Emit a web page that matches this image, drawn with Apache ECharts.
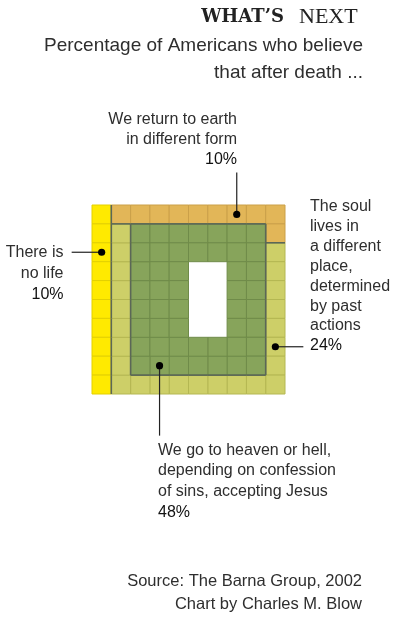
<!DOCTYPE html>
<html><head><meta charset="utf-8">
<script src="https://cdn.jsdelivr.net/npm/echarts@6/dist/echarts.min.js"></script>
<style>html,body{margin:0;padding:0;background:#fff;}#c{width:400px;height:620px;}</style>
</head><body><div id="c"></div>
<script>
// ---- data ----
const categories = [
  'There is no life',
  'We return to earth in different form',
  'The soul lives in a different place, determined by past actions',
  'We go to heaven or hell, depending on confession of sins, accepting Jesus'
];
const values = [10, 10, 24, 48];
const labelLines = [
  ['There is', 'no life'],
  ['We return to earth', 'in different form'],
  ['The soul', 'lives in', 'a different', 'place,', 'determined', 'by past', 'actions'],
  ['We go to heaven or hell,', 'depending on confession', 'of sins, accepting Jesus']
];
const titleBold = 'WHAT’S';
const titleLight = 'NEXT';
const subtitleLines = ['Percentage of Americans who believe', 'that after death ...'];
const sourceLines = ['Source: The Barna Group, 2002', 'Chart by Charles M. Blow'];

// ---- styles / layout ----
const fills = ['#FFEA00', '#E2B658', '#CDCF68', '#87A45B'];
const strokes = ['#E3D000', '#CBA049', '#B4B752', '#6F8B49'];
const outlineColor = '#5b6757';
const textColor = '#2e2e2e';
const pctColor = '#111';
// fill path through the 10x10 waffle: [startCol, startRow, dCol, dRow, count]
const walkSegments = [
  [0,0,0,1,10],[1,0,1,0,9],[9,1,0,1,9],[8,9,-1,0,8],[1,8,0,-1,8],
  [2,1,1,0,7],[8,2,0,1,7],[7,8,-1,0,6],[2,7,0,-1,6],
  [3,2,1,0,5],[7,3,0,1,5],[6,7,-1,0,4],[3,6,0,-1,4],
  [4,3,0,1,4],[5,3,0,1,4],[6,3,0,1,4]
];
// annotation anchor cell per category and leader offset in px
const anchorCells = [[0,2],[7,0],[9,7],[3,8]];
const leaderOffsets = [[-30,0],[0,-42],[28,0],[0,70]];

// ---- build cells from values ----
const order = [];
walkSegments.forEach(([c, r, dc, dr, n]) => {
  for (let k = 0; k < n; k++) order.push([c + dc * k, r + dr * k]);
});
const cells = [];
const cellMap = {};
let idx = 0;
values.forEach((v, g) => {
  for (let k = 0; k < v && idx < order.length; k++, idx++) {
    const [c, r] = order[idx];
    cells.push([c, r, g]);
    cellMap[c + ',' + r] = g;
  }
});
const edges = [];
cells.forEach(([c, r, g]) => {
  const right = cellMap[(c + 1) + ',' + r];
  if (right !== undefined && right !== g) edges.push([c + 1, r, c + 1, r + 1]);
  const below = cellMap[c + ',' + (r + 1)];
  if (below !== undefined && below !== g) edges.push([c, r + 1, c + 1, r + 1]);
});
const anchorData = anchorCells.map((a, g) => [a[0], a[1], g]);

// ---- texts ----
const FONT = '"Liberation Sans", Arial, sans-serif';
function txt(x, y, text, align, font, fill) {
  return { type: 'text', x: x, y: y, silent: true,
    style: { text: text, font: font, fill: fill, align: align, verticalAlign: 'middle',
             textAlign: align, textVerticalAlign: 'middle' } };
}
const graphics = [];
graphics.push(txt(284, 17.5, titleBold, 'right', 'bold 18px "DejaVu Serif", serif', '#222'));
graphics.push(txt(299, 17.5, titleLight, 'left', '22px "Liberation Serif", serif', '#222'));
subtitleLines.forEach((t, i) => graphics.push(txt(363, 46 + i * 27, t, 'right', '19px ' + FONT, textColor)));
// annotation text blocks: [x, firstMiddleY, lineStep, align]
const labelBlocks = [
  [63.5, 252.6, 20.8, 'right'],
  [237, 119.2, 20, 'right'],
  [310, 206.6, 19.9, 'left'],
  [158, 450.2, 20.8, 'left']
];
labelLines.forEach((lines, g) => {
  const [x, y0, step, al] = labelBlocks[g];
  lines.forEach((t, i) => graphics.push(txt(x, y0 + i * step, t, al, '16px ' + FONT, textColor)));
  graphics.push(txt(x, y0 + lines.length * step, values[g] + '%', al, '16px ' + FONT, pctColor));
});
sourceLines.forEach((t, i) => graphics.push(txt(362, 581 + i * 23.3, t, 'right', '16.5px ' + FONT, textColor)));

const chart = echarts.init(document.getElementById('c'), null, { renderer: 'canvas' });
chart.setOption({
  animation: false,
  backgroundColor: '#fff',
  grid: { left: 92, top: 205, width: 193, height: 189 },
  xAxis: { type: 'value', min: 0, max: 10, show: false },
  yAxis: { type: 'value', min: 0, max: 10, inverse: true, show: false },
  series: [
    {
      type: 'custom', name: 'cells', z: 1, data: cells,
      encode: { x: 0, y: 1 },
      renderItem: (p, api) => {
        const c = api.value(0), r = api.value(1), g = api.value(2);
        const a = api.coord([c, r]), b = api.coord([c + 1, r + 1]);
        return { type: 'rect',
          shape: { x: a[0], y: a[1], width: b[0] - a[0], height: b[1] - a[1] },
          style: { fill: fills[g], stroke: strokes[g], lineWidth: 1 } };
      }
    },
    {
      type: 'custom', name: 'outlines', z: 2, data: edges,
      encode: { x: [0, 2], y: [1, 3] },
      renderItem: (p, api) => {
        const a = api.coord([api.value(0), api.value(1)]);
        const b = api.coord([api.value(2), api.value(3)]);
        return { type: 'line', shape: { x1: a[0], y1: a[1], x2: b[0], y2: b[1] },
          style: { stroke: outlineColor, lineWidth: 1.6 } };
      }
    },
    {
      type: 'custom', name: 'anchors', z: 3, clip: false, data: anchorData,
      encode: { x: 0, y: 1 },
      renderItem: (p, api) => {
        const g = api.value(2);
        const ctr = api.coord([api.value(0) + 0.5, api.value(1) + 0.5]);
        const off = leaderOffsets[g];
        return { type: 'group', children: [
          { type: 'line', shape: { x1: ctr[0], y1: ctr[1], x2: ctr[0] + off[0], y2: ctr[1] + off[1] },
            style: { stroke: '#222', lineWidth: 1.2 } },
          { type: 'circle', shape: { cx: ctr[0], cy: ctr[1], r: 3.6 }, style: { fill: '#000' } }
        ] };
      }
    }
  ],
  graphic: graphics
});
</script>
</body></html>
